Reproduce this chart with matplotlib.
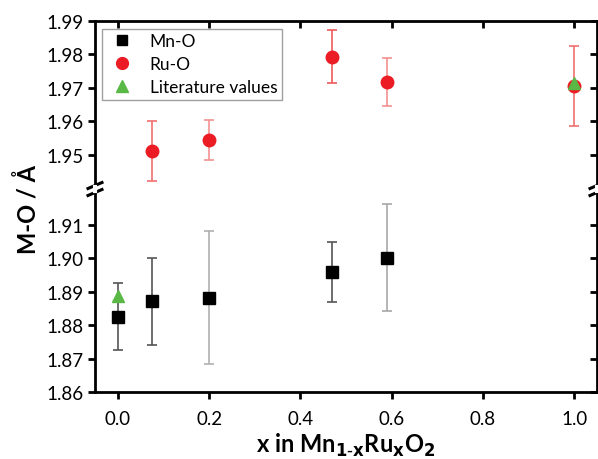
import matplotlib
matplotlib.use("Agg")
import matplotlib.pyplot as plt
from matplotlib.lines import Line2D

plt.rcParams['font.family'] = ['Lato', 'DejaVu Sans']

# Data
mn_x = [0.0, 0.075, 0.20, 0.47, 0.59]
mn_y = [1.8826, 1.8872, 1.8883, 1.8960, 1.9002]
mn_err = [0.0100, 0.0130, 0.0200, 0.0090, 0.0160]
mn_ecol = ['#555555', '#555555', '#b0b0b0', '#555555', '#a8a8a8']

ru_x = [0.075, 0.20, 0.47, 0.59, 1.0]
ru_y = [1.9510, 1.9543, 1.9793, 1.9718, 1.9705]
ru_err = [0.0090, 0.0060, 0.0080, 0.0071, 0.0120]
ru_ecol = ['#f07070', '#f49090', '#ee5a5a', '#f49090', '#f07070']

lit_x = [0.0, 1.0]
lit_y = [1.8887, 1.9715]

xticks = [0.0, 0.2, 0.4, 0.6, 0.8, 1.0]
upper_yticks = [1.95, 1.96, 1.97, 1.98, 1.99]
lower_yticks = [1.86, 1.87, 1.88, 1.89, 1.90, 1.91]

BLACK = '#000000'
RED = '#ec1c24'
GREEN = '#5ab946'

fig = plt.figure(figsize=(5.98, 4.6), dpi=100)
L, W = 95/598, 502/598
ax_top = fig.add_axes([L, (460-190)/460, W, 168/460])
ax_bot = fig.add_axes([L, (460-393)/460, W, 203/460])

for ax in (ax_top, ax_bot):
    ax.set_xlim(-0.05, 1.05)
    for s in ax.spines.values():
        s.set_linewidth(2)
    ax.set_xticks(xticks)

ax_top.set_ylim(1.9397, 1.99)
ax_bot.set_ylim(1.86, 1.9208)
ax_top.spines['bottom'].set_visible(False)
ax_bot.spines['top'].set_visible(False)

ax_top.set_yticks(upper_yticks)
ax_top.set_yticklabels([f"{v:.2f}" for v in upper_yticks])
ax_bot.set_yticks(lower_yticks)
ax_bot.set_yticklabels([f"{v:.2f}" for v in lower_yticks])

ax_top.tick_params(axis='x', which='both', bottom=False, top=True, labelbottom=False,
                   direction='in', length=5, width=2)
ax_bot.tick_params(axis='x', which='both', bottom=True, top=False, direction='out',
                   length=5, width=2, labelsize=13.5, pad=8)
for ax in (ax_top, ax_bot):
    ax.tick_params(axis='y', which='both', left=True, right=False, direction='out',
                   length=5, width=2, labelsize=13.5, pad=3)
    axr = ax.secondary_yaxis('right')
    axr.set_yticks(ax.get_yticks())
    axr.tick_params(axis='y', direction='in', length=5, width=2, labelright=False)
    axr.spines['right'].set_visible(False)

# Error bars and markers
for xi, yi, ei, ci in zip(mn_x, mn_y, mn_err, mn_ecol):
    ax_bot.errorbar(xi, yi, yerr=ei, fmt='none', ecolor=ci, elinewidth=1.2,
                    capsize=3.5, capthick=1.2, zorder=2)
ax_bot.plot(mn_x, mn_y, 's', color=BLACK, markersize=8, zorder=4, linestyle='none')

for xi, yi, ei, ci in zip(ru_x, ru_y, ru_err, ru_ecol):
    ax_top.errorbar(xi, yi, yerr=ei, fmt='none', ecolor=ci, elinewidth=1.2,
                    capsize=3.5, capthick=1.2, zorder=2)
ax_top.plot(ru_x, ru_y, 'o', color=RED, markersize=9, zorder=4, linestyle='none')

ax_bot.plot(lit_x, lit_y, '^', color=GREEN, markersize=9, zorder=5, linestyle='none')
ax_top.plot(lit_x, lit_y, '^', color=GREEN, markersize=9, zorder=5, linestyle='none')

# Break marks
for xf in (L, L + W):
    for dy in (-3.5, 3.5):
        yc = (460 - 190 + dy) / 460
        fig.add_artist(Line2D([xf - 7/598, xf + 7/598], [yc - 3/460, yc + 3/460],
                              color='black', lw=2.2, transform=fig.transFigure))
    fig.add_artist(Line2D([xf, xf], [(460-190-2)/460, (460-190+2)/460],
                          color='white', lw=3, transform=fig.transFigure))

# Labels
fig.text(0.047, (460 - 210)/460, 'M-O / Å', rotation=90, ha='center', va='center',
         fontsize=17, fontweight='bold')
ax_bot.set_xlabel(r'x in Mn$_{\mathbf{1\text{-}x}}$Ru$_{\mathbf{x}}$O$_{\mathbf{2}}$',
                  fontsize=17, fontweight='bold', labelpad=3)

# Legend
handles = [
    Line2D([], [], marker='s', color=BLACK, linestyle='none', markersize=7),
    Line2D([], [], marker='o', color=RED, linestyle='none', markersize=8.5),
    Line2D([], [], marker='^', color=GREEN, linestyle='none', markersize=8.5),
]
leg = ax_top.legend(handles, ['Mn-O', 'Ru-O', 'Literature values'], loc='upper left',
                    bbox_to_anchor=(0.014, 0.952), borderaxespad=0, fancybox=False,
                    edgecolor='#888888', fontsize=12.5, handletextpad=0.7,
                    labelspacing=0.4, borderpad=0.25, handlelength=1.8)
leg.get_frame().set_linewidth(1)

fig.savefig('out.png', dpi=100)
